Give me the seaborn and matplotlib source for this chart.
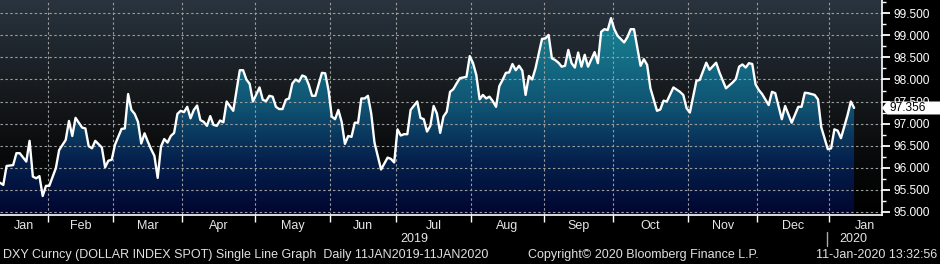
import numpy as np
import pandas as pd
import matplotlib
matplotlib.use("Agg")
import matplotlib.pyplot as plt
import seaborn as sns
from matplotlib.colors import LinearSegmentedColormap
from matplotlib.patches import Polygon
from matplotlib.lines import Line2D
from matplotlib.transforms import blended_transform_factory

# ---- data (trading-day number since 11 Jan 2019, DXY close) ----
trade_day = [0, 1, 2, 4, 5, 6, 8, 9, 10, 11, 12, 13, 14, 15, 17, 18, 20, 21, 22, 23,
             25, 26, 27, 28, 29, 31, 32, 33, 34, 35, 37, 38, 39, 40, 41, 42, 43, 44, 45, 46,
             47, 48, 49, 50, 51, 52, 53, 54, 55, 56, 57, 58, 59, 60, 61, 62, 63, 64, 65, 66,
             67, 68, 69, 71, 73, 74, 75, 76, 77, 79, 80, 81, 82, 83, 84, 85, 86, 87, 88, 89,
             90, 91, 92, 93, 94, 95, 96, 98, 99, 100, 101, 102, 103, 104, 105, 106, 107, 108, 109, 110,
             111, 112, 113, 114, 116, 118, 119, 120, 121, 122, 123, 124, 125, 127, 128, 129, 130, 131, 132, 133,
             134, 135, 136, 137, 138, 139, 140, 142, 143, 144, 145, 146, 147, 148, 149, 150, 151, 152, 153, 154,
             155, 156, 157, 158, 159, 160, 161, 162, 163, 165, 166, 167, 168, 169, 170, 171, 172, 173, 174, 175,
             176, 177, 178, 179, 181, 182, 183, 184, 185, 186, 187, 188, 190, 191, 192, 193, 195, 196, 197, 198,
             200, 201, 202, 203, 205, 207, 208, 209, 210, 212, 213, 215, 216, 218, 219, 221, 223, 224, 225, 226,
             227, 228, 229, 230, 231, 232, 234, 235, 236, 238, 239, 241, 243, 244, 245, 246, 248, 249, 250, 252,
             253, 254, 255, 256, 258, 259, 260]
dxy = [95.66, 95.61, 96.04, 96.06, 96.33, 96.33, 96.14, 96.61, 95.80, 95.76, 95.81, 95.36, 95.59, 95.59, 95.99, 96.40, 96.63, 97.06, 96.72, 97.13,
       96.91, 96.89, 96.49, 96.44, 96.61, 96.46, 96.01, 96.16, 96.18, 96.52, 96.88, 96.89, 97.67, 97.31, 97.22, 97.04, 96.55, 96.78, 96.59, 96.42,
       96.27, 95.77, 96.48, 96.65, 96.57, 96.72, 96.79, 97.22, 97.29, 97.26, 97.38, 97.12, 97.31, 97.41, 97.08, 97.04, 96.95, 97.17, 96.97, 96.95,
       97.07, 97.03, 97.50, 97.29, 98.21, 98.21, 98.00, 97.90, 97.50, 97.82, 97.54, 97.51, 97.63, 97.61, 97.38, 97.33, 97.33, 97.54, 97.57, 97.91,
       98.00, 97.95, 98.09, 98.06, 97.88, 97.63, 97.63, 98.15, 98.14, 97.76, 97.16, 97.10, 97.31, 97.04, 96.54, 96.72, 96.70, 97.02, 97.02, 97.57,
       97.57, 97.63, 97.23, 96.57, 95.96, 96.23, 96.20, 96.12, 96.87, 96.73, 96.76, 96.76, 97.31, 97.50, 97.13, 97.10, 96.82, 96.95, 97.40, 97.23,
       96.79, 97.16, 97.27, 97.72, 97.78, 97.91, 98.03, 98.06, 98.53, 98.37, 98.10, 97.55, 97.65, 97.57, 97.61, 97.51, 97.38, 97.85, 97.99, 98.15,
       98.16, 98.35, 98.21, 98.31, 98.20, 97.65, 98.08, 98.00, 98.25, 98.92, 98.93, 99.01, 98.48, 98.44, 98.38, 98.29, 98.31, 98.67, 98.37, 98.27,
       98.61, 98.29, 98.56, 98.29, 98.62, 98.37, 99.08, 99.14, 99.12, 99.39, 99.14, 98.99, 98.84, 98.96, 99.14, 99.14, 98.31, 98.46, 98.33, 97.80,
       97.29, 97.32, 97.52, 97.50, 97.82, 97.72, 97.65, 97.35, 97.25, 97.97, 97.99, 98.38, 98.22, 98.38, 98.16, 97.80, 97.93, 98.01, 98.29, 98.34,
       98.27, 98.37, 98.35, 97.89, 97.76, 97.67, 97.42, 97.72, 97.69, 97.10, 97.40, 97.02, 97.38, 97.38, 97.70, 97.69, 97.65, 97.55, 96.92, 96.42,
       96.44, 96.87, 96.84, 96.67, 97.19, 97.50, 97.356]
y_ticks = [95.0, 95.5, 96.0, 96.5, 97.0, 97.5, 98.0, 98.5, 99.0, 99.5]
last_label = "97.356"
year_labels = ["2019", "2020"]
footer_left = "DXY Curncy (DOLLAR INDEX SPOT) Single Line Graph  Daily 11JAN2019-11JAN2020"
footer_mid = "Copyright\u00a9 2020 Bloomberg Finance L.P."
footer_right = "11-Jan-2020 13:32:56"

sns.set_theme(style="dark")
plt.rcParams["font.family"] = ["Liberation Sans", "DejaVu Sans"]

W, H = 940, 264
PX_PER_DAY = 3.285
XMAX = 882 / PX_PER_DAY
YTOP, YBOT = 99.801, 94.929

fig = plt.figure(figsize=(W / 100, H / 100), dpi=100, facecolor="black")
ax = fig.add_axes([0, 49 / H, 882 / W, 215 / H])
ax.set_facecolor("black")

grad = np.linspace(0, 1, 256).reshape(-1, 1)
bg_cmap = LinearSegmentedColormap.from_list(
    "bg", [(0, "#000000"), (0.3, "#0a0b0c"), (0.55, "#15191c"), (1, "#29343e")])
ax.imshow(grad, cmap=bg_cmap, extent=(0, XMAX, YBOT, YTOP), origin="lower",
          aspect="auto", zorder=0, interpolation="bilinear")

fill_cmap = LinearSegmentedColormap.from_list(
    "fill", [(0, "#010530"), (0.25, "#05204d"), (0.5, "#0f5272"), (0.93, "#1a8796"), (1, "#1d8f9d")])
fill = ax.fill_between(trade_day, dxy, YBOT, color="none", lw=0)
im = ax.imshow(grad, cmap=fill_cmap, extent=(0, XMAX, YBOT, YTOP), origin="lower",
               aspect="auto", zorder=1, interpolation="bilinear")
im.set_clip_path(fill.get_paths()[0], transform=ax.transData)

# month boundaries from the trading calendar
bdays = pd.bdate_range("2019-01-11", "2020-01-10")
month_start = [i for i in range(1, len(bdays)) if bdays[i].month != bdays[i - 1].month]
bounds = [i - 0.5 for i in month_start]
grid_kw = dict(color="#9c9c9c", lw=0.8, linestyle=(0, (2.2, 2.2)), zorder=2)
for yv in y_ticks:
    ax.axhline(yv, **grid_kw)
for xv in bounds:
    ax.axvline(xv, **grid_kw)

sns.lineplot(x=trade_day, y=dxy, ax=ax, color="white", linewidth=1.7, zorder=5,
             estimator=None, sort=False)

ax.set_xlim(0, XMAX)
ax.set_ylim(YBOT, YTOP)
ax.set_xlabel("")
ax.set_ylabel("")

for s in ["top", "left"]:
    ax.spines[s].set_visible(False)
for s in ["right", "bottom"]:
    ax.spines[s].set_visible(True)
    ax.spines[s].set_color("white")
    ax.spines[s].set_linewidth(1.2)

ax.yaxis.tick_right()
ax.set_yticks(y_ticks)
ax.set_yticklabels([f"{v:.3f}" for v in y_ticks])
ax.set_yticks([v + 0.25 for v in y_ticks[:-1]] + [99.75], minor=True)
ax.tick_params(axis="y", which="major", right=True, left=False, length=6, width=1.3,
               color="white", labelcolor="white", labelsize=8.6, pad=2, direction="out")
ax.tick_params(axis="y", which="minor", right=True, left=False, length=3, width=1,
               color="white")
ax.set_xticks(bounds)
ax.set_xticklabels([])
ax.tick_params(axis="x", which="major", bottom=True, length=5, width=1, color="white")

# month labels centred in each month
edges = [0] + bounds + [274.0]
mid = [(a + b) / 2 for a, b in zip(edges[:-1], edges[1:])]
months = [bdays[0].strftime("%b")] + [bdays[i].strftime("%b") for i in month_start]
bt = blended_transform_factory(ax.transData, fig.transFigure)
for m, xm in zip(months, mid):
    ax.text(xm, 1 - 226 / H, m, transform=bt, ha="center", va="center",
            color="#e6e6e6", fontsize=9, clip_on=False)
year_mid = [(0 + bounds[-1]) / 2, (bounds[-1] + 267.0) / 2]
for yl, xm in zip(year_labels, year_mid):
    ax.text(xm, 1 - 239 / H, yl, transform=bt, ha="center", va="center",
            color="#e6e6e6", fontsize=9, clip_on=False)
fig.add_artist(Line2D([827 / W, 827 / W], [1 - 232 / H, 1 - 246 / H],
                      transform=fig.transFigure, color="#aaaaaa", lw=1))

# footer
fy = 1 - 255 / H
fig.text(3 / W, fy, footer_left, color="#e0e0e0", fontsize=9, ha="left", va="center")
fig.text(528 / W, fy, footer_mid, color="#e0e0e0", fontsize=9, ha="left", va="center")
fig.text(937 / W, fy, footer_right, color="#e0e0e0", fontsize=9, ha="right", va="center")

# last value box
pts = [(882, 108), (887, 101.5), (940, 101.5), (940, 114.5), (887, 114.5)]
fig.add_artist(Polygon([(x / W, 1 - y / H) for x, y in pts], closed=True,
                       transform=fig.transFigure, facecolor="white", edgecolor="none", zorder=5))
fig.text(889 / W, 1 - 108 / H, last_label, color="black", fontsize=8.6,
         ha="left", va="center", zorder=6)

fig.savefig("out.png", dpi=100, facecolor="black")
